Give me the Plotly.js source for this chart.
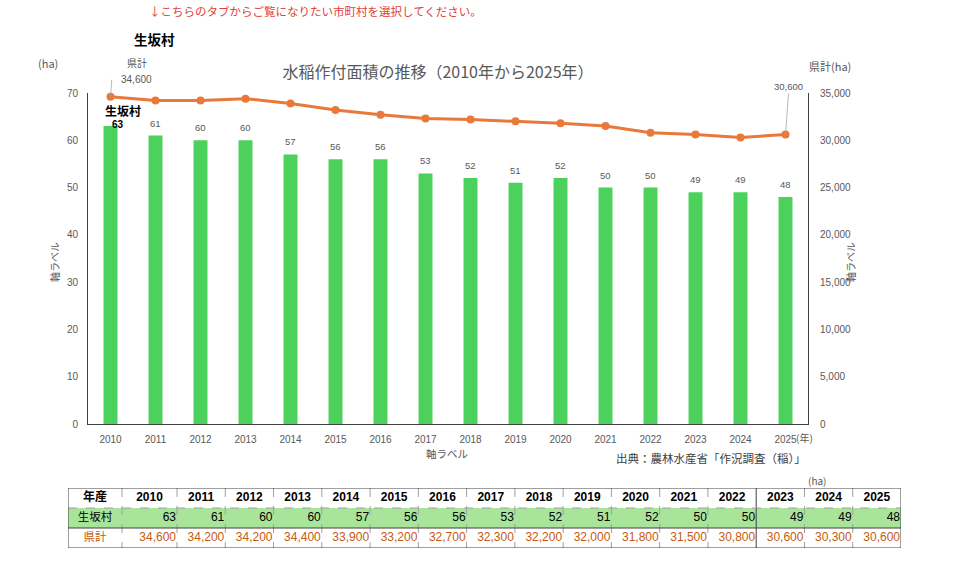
<!DOCTYPE html>
<html>
<head>
<meta charset="utf-8">
<script src="https://cdn.plot.ly/plotly-3.0.1.min.js"></script>
<style>
  html, body { margin: 0; padding: 0; background: #ffffff; }
  #chart { width: 960px; height: 568px; }
</style>
</head>
<body>
<div id="chart"></div>
<script>
// 水稲作付面積（ha）: 生坂村 と 県計
const years = ['2010', '2011', '2012', '2013', '2014', '2015', '2016', '2017',
               '2018', '2019', '2020', '2021', '2022', '2023', '2024', '2025'];
const villageArea = [63, 61, 60, 60, 57, 56, 56, 53, 52, 51, 52, 50, 50, 49, 49, 48];
const prefArea = [34600, 34200, 34200, 34400, 33900, 33200, 32700, 32300,
                  32200, 32000, 31800, 31500, 30800, 30600, 30300, 30600];
const villageName = '生坂村';
const prefName = '県計';
const tableCorner = '年産';

const W = 960, H = 568;
const px = x => x / W;
const py = y => 1 - y / H;

const FONT = 'Liberation Sans, Arial, "Noto Sans CJK JP", sans-serif';
const JP = '"Noto Sans CJK JP", "Noto Sans", sans-serif';
const GRAY = '#595959';
const BAR_GREEN = '#4cd25c';
const LINE_ORANGE = '#e8793a';
const TABLE_ORANGE = '#c55a11';
const ROW_GREEN = '#a9e49b';
const RULE = '#404040';
const DASH_RULE = '#a0a0a0';
const LEADER = '#a6a6a6';

const fmt = v => v.toLocaleString('en-US');
const last = years.length - 1;

// plot area geometry (pixels)
const plotL = 88, plotR = 808, plotT = 93, plotB = 424;
// table geometry (pixels); the x3 axis is scaled one unit per pixel
const tabL = 68, tabR = 901, tabT = 488, tabB = 548;
const cornerW = 54, firstYearW = 55;
const yearW = (tabR - tabL - cornerW - firstYearW) / (years.length - 1);
const colW = [cornerW].concat(years.map((y, i) => i === 0 ? firstYearW : yearW));
const edges = colW.reduce((acc, w) => acc.concat(acc[acc.length - 1] + w), [0]);
const centers = colW.map((w, i) => edges[i] + w / 2);
const rightEdges = edges.slice(2).map(e => e - 1);

const barTrace = {
  type: 'bar',
  x: years,
  y: villageArea,
  width: 0.31,
  marker: { color: BAR_GREEN },
  xaxis: 'x', yaxis: 'y',
  hoverinfo: 'skip'
};

const lineTrace = {
  type: 'scatter',
  mode: 'lines+markers',
  x: years,
  y: prefArea,
  line: { color: LINE_ORANGE, width: 3 },
  marker: { color: LINE_ORANGE, size: 8 },
  xaxis: 'x', yaxis: 'y2',
  cliponaxis: false,
  hoverinfo: 'skip'
};

// table: cell fills (header / 生坂村 / 県計)
const rowFill = [0, 1, 0];
const fillTrace = {
  type: 'heatmap',
  x: edges,
  y: [0, 1, 2, 3],
  z: rowFill.map(f => colW.map(() => f)),
  zmin: 0, zmax: 1,
  colorscale: [[0, '#ffffff'], [1, ROW_GREEN]],
  showscale: false,
  xaxis: 'x3', yaxis: 'y3',
  hoverinfo: 'skip'
};

const headerText = {
  type: 'scatter', mode: 'text',
  x: centers,
  y: centers.map(() => 0.5),
  text: [tableCorner].concat(years).map(v => '<b>' + v + '</b>'),
  textposition: 'middle center',
  textfont: { family: FONT, size: 12, color: '#000000' },
  xaxis: 'x3', yaxis: 'y3', cliponaxis: false, hoverinfo: 'skip'
};

const rowLabelText = {
  type: 'scatter', mode: 'text',
  x: [centers[0], centers[0]],
  y: [1.5, 2.5],
  text: [villageName, prefName],
  textposition: 'middle center',
  textfont: { family: JP, size: 11.5, color: ['#000000', TABLE_ORANGE] },
  xaxis: 'x3', yaxis: 'y3', cliponaxis: false, hoverinfo: 'skip'
};

const villageText = {
  type: 'scatter', mode: 'text',
  x: rightEdges,
  y: years.map(() => 1.5),
  text: villageArea.map(String),
  textposition: 'middle left',
  textfont: { family: FONT, size: 12, color: '#000000' },
  xaxis: 'x3', yaxis: 'y3', cliponaxis: false, hoverinfo: 'skip'
};

const prefText = {
  type: 'scatter', mode: 'text',
  x: rightEdges,
  y: years.map(() => 2.5),
  text: prefArea.map(fmt),
  textposition: 'middle left',
  textfont: { family: FONT, size: 12, color: TABLE_ORANGE },
  xaxis: 'x3', yaxis: 'y3', cliponaxis: false, hoverinfo: 'skip'
};

const paperText = (text, x, y, size, color, extra) => Object.assign({
  text, x: px(x), y: py(y), xref: 'paper', yref: 'paper',
  xanchor: 'center', yanchor: 'middle', showarrow: false,
  font: { family: JP, size, color }
}, extra || {});

const annotations = [
  paperText('↓こちらのタブからご覧になりたい市町村を選択してください。', 315, 11, 11.5, '#e0403c'),
  paperText('<b>' + villageName + '</b>', 154, 39, 13.5, '#000000'),
  paperText('(ha)', 48, 63, 11, GRAY),
  paperText(prefName + '(ha)', 830, 66, 11, GRAY),
  paperText('軸ラベル', 55, 262, 10, GRAY, { textangle: -90 }),
  paperText('軸ラベル', 851, 262, 10, GRAY, { textangle: -90 }),
  paperText('軸ラベル', 447, 453, 10.5, GRAY),
  paperText('(年)', 804, 437, 10, GRAY),
  paperText('出典：農林水産省「作況調査（稲）」', 808, 458, 11.5, '#404040', { xanchor: 'right' }),
  paperText('(ha)', 817, 480, 10, GRAY),
  // series name above the first bar
  { text: '<b>' + villageName + '</b>', x: 0, y: villageArea[0], xref: 'x', yref: 'y',
    xanchor: 'center', yanchor: 'middle', yshift: 16, xshift: 12, showarrow: false,
    font: { family: JP, size: 12, color: '#000000' } },
  // leader label for the first prefecture total
  { text: prefName, x: 0, y: prefArea[0], xref: 'x', yref: 'y2',
    xanchor: 'center', yanchor: 'middle', xshift: 26, yshift: 34, showarrow: false,
    font: { family: JP, size: 10, color: GRAY } },
  { text: fmt(prefArea[0]), x: 0, y: prefArea[0], xref: 'x', yref: 'y2',
    xanchor: 'center', yanchor: 'middle', xshift: 26, yshift: 17, showarrow: false,
    font: { family: FONT, size: 10, color: GRAY } },
  { text: ' ', x: 0, y: prefArea[0], xref: 'x', yref: 'y2',
    ax: 2, ay: -27, showarrow: true, arrowhead: 0, arrowwidth: 0.8, arrowcolor: LEADER },
  // leader label for the last prefecture total
  { text: fmt(prefArea[last]), x: last, y: prefArea[last], xref: 'x', yref: 'y2',
    xanchor: 'center', yanchor: 'bottom', ax: 3, ay: -41,
    showarrow: true, arrowhead: 0, arrowwidth: 0.8, arrowcolor: LEADER,
    font: { family: FONT, size: 9.5, color: GRAY } }
].concat(villageArea.map((v, i) => ({
  // value labels over the bars
  text: i === 0 ? '<b>' + v + '</b>' : String(v),
  x: i, y: v, xref: 'x', yref: 'y',
  xanchor: 'center', yanchor: i === 0 ? 'middle' : 'bottom',
  yshift: i === 0 ? 2 : 5, xshift: i === 0 ? 7 : 0, showarrow: false,
  font: { family: FONT, size: i === 0 ? 10 : 9.5, color: i === 0 ? '#000000' : GRAY }
})));

// table rules
const vRule = (x, solid) => ({
  type: 'line', xref: 'x3', yref: 'y3', x0: x, x1: x, y0: 0, y1: 3,
  line: { color: solid ? RULE : DASH_RULE, width: 1, dash: solid ? 'solid' : 'dash' }
});
const solidAfter = years.indexOf('2022') + 2;
const shapes = edges.slice(1, -1).map((e, k) => vRule(e, k + 1 === solidAfter)).concat([
  { type: 'line', xref: 'x3', yref: 'y3', x0: 0, x1: edges[edges.length - 1], y0: 1, y1: 1,
    line: { color: DASH_RULE, width: 1, dash: 'dash' } },
  { type: 'line', xref: 'x3', yref: 'y3', x0: 0, x1: edges[edges.length - 1], y0: 2, y1: 2,
    line: { color: RULE, width: 1 } },
  { type: 'rect', xref: 'x3', yref: 'y3', x0: 0, x1: edges[edges.length - 1], y0: 0, y1: 3,
    line: { color: RULE, width: 1 } },
  // small hook at the top of the first leader line
  { type: 'line', xref: 'x', yref: 'y2', xsizemode: 'pixel', ysizemode: 'pixel',
    xanchor: 0, yanchor: prefArea[0], x0: 2, x1: 6, y0: 27, y1: 27,
    line: { color: LEADER, width: 0.8 } }
]);

const hiddenAxis = { visible: false, showgrid: false, zeroline: false, fixedrange: true };

const layout = {
  width: W, height: H,
  autosize: false,
  margin: { l: 0, r: 0, t: 0, b: 0, pad: 0 },
  paper_bgcolor: '#ffffff',
  plot_bgcolor: 'rgba(0,0,0,0)',
  showlegend: false,
  title: {
    text: '水稲作付面積の推移（2010年から2025年）',
    x: px(438), y: py(72), xanchor: 'center', yanchor: 'middle', xref: 'paper', yref: 'paper',
    font: { family: JP, size: 16, color: GRAY }
  },
  xaxis: {
    domain: [px(plotL), px(plotR)],
    type: 'category',
    range: [-0.5, years.length - 0.5],
    showline: true, linecolor: RULE, linewidth: 1,
    ticks: '', showgrid: false, zeroline: false,
    ticklabelstandoff: 6,
    tickfont: { family: FONT, size: 10, color: GRAY },
    anchor: 'y'
  },
  yaxis: {
    domain: [py(plotB), py(plotT)],
    range: [0, 70], dtick: 10,
    showline: true, linecolor: RULE, linewidth: 1,
    ticks: '', showgrid: false, zeroline: false,
    ticklabelstandoff: 7,
    tickfont: { family: FONT, size: 10, color: GRAY },
    anchor: 'x'
  },
  yaxis2: {
    overlaying: 'y', side: 'right', anchor: 'x',
    range: [0, 35000], dtick: 5000, tickformat: ',d',
    showline: true, linecolor: RULE, linewidth: 1,
    ticks: '', showgrid: false, zeroline: false,
    ticklabelstandoff: 9,
    tickfont: { family: FONT, size: 10, color: GRAY }
  },
  xaxis3: Object.assign({ domain: [px(tabL), px(tabR)], range: [0, edges[edges.length - 1]], anchor: 'y3' }, hiddenAxis),
  yaxis3: Object.assign({ domain: [py(tabB), py(tabT)], range: [3, 0], anchor: 'x3' }, hiddenAxis),
  annotations: annotations,
  shapes: shapes
};

Plotly.newPlot('chart',
  [barTrace, lineTrace, fillTrace, headerText, rowLabelText, villageText, prefText],
  layout, { displayModeBar: false, staticPlot: true });
</script>
</body>
</html>
